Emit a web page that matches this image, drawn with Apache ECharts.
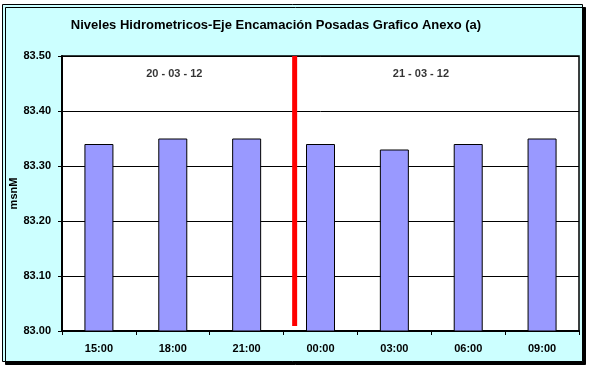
<!DOCTYPE html>
<html>
<head>
<meta charset="utf-8">
<script src="https://cdn.jsdelivr.net/npm/echarts@6/dist/echarts.min.js"></script>
<style>html,body{margin:0;padding:0;background:#fff;}#c{width:592px;height:370px;}</style>
</head>
<body>
<div id="c"></div>
<script>
var categories = ['15:00', '18:00', '21:00', '00:00', '03:00', '06:00', '09:00'];
var levels = [83.34, 83.35, 83.35, 83.34, 83.33, 83.34, 83.35];
var yTicks = [83.00, 83.10, 83.20, 83.30, 83.40, 83.50];
var dayDivider = [[3.15, 83.009], [3.15, 83.5]];
var dateLabels = [
  { name: '20 - 03 - 12', value: [1.52, 83.467] },
  { name: '21 - 03 - 12', value: [4.86, 83.467] }
];

var FONT = '"Liberation Sans", Arial, sans-serif';
var chart = echarts.init(document.getElementById('c'), null, { renderer: 'canvas' });
chart.setOption({
  animation: false,
  backgroundColor: '#ffffff',
  graphic: [{
    type: 'rect', z: -10, silent: true,
    shape: { x: 2.5, y: 4.5, width: 580, height: 357 },
    style: { fill: '#CCFFFF', stroke: '#000', lineWidth: 1, shadowColor: '#000', shadowOffsetX: 3, shadowOffsetY: 3, shadowBlur: 0 }
  }],
  title: {
    text: 'Niveles Hidrometricos-Eje Encamación Posadas Grafico Anexo (a)',
    left: 271, top: 14, textAlign: 'center',
    textStyle: { fontFamily: FONT, fontSize: 13, fontWeight: 'bold', color: '#000' }
  },
  grid: { left: 62, top: 56, right: 13, bottom: 39, show: true, backgroundColor: '#fff', borderColor: '#000', borderWidth: 1.5, containLabel: false, outerBoundsMode: 'none' },
  xAxis: [{
    type: 'category', data: categories, boundaryGap: true,
    axisLine: { lineStyle: { color: '#000', width: 2 } },
    axisTick: { show: true, length: 4, inside: false, lineStyle: { color: '#000' } },
    axisLabel: { margin: 12, fontFamily: FONT, fontSize: 11, fontWeight: 'bold', color: '#000' },
    splitLine: { show: false }
  }, {
    type: 'value', min: 0, max: 7, show: false, position: 'bottom'
  }],
  yAxis: {
    type: 'value', min: yTicks[0], max: yTicks[yTicks.length - 1], interval: 0.1,
    name: 'msnM', nameLocation: 'middle', nameRotate: 90, nameGap: 43, nameMoveOverlap: false,
    nameTextStyle: { fontFamily: FONT, fontSize: 11, fontWeight: 'bold', color: '#000' },
    axisLine: { show: true, lineStyle: { color: '#000', width: 2 } },
    axisTick: { show: true, length: 4, lineStyle: { color: '#000' } },
    axisLabel: { margin: 11, fontFamily: FONT, fontSize: 11, fontWeight: 'bold', color: '#000',
      formatter: function (v) { return v.toFixed(2); } },
    splitLine: { show: true, lineStyle: { color: '#000', width: 1 } }
  },
  series: [{
    type: 'bar', data: levels, barWidth: 29, xAxisIndex: 0,
    itemStyle: { color: '#9999FF', borderColor: '#000', borderWidth: 1 }
  }, {
    type: 'line', data: dayDivider, xAxisIndex: 1, showSymbol: false, symbol: 'none',
    lineStyle: { color: '#FF0000', width: 5, cap: 'butt' }, z: 5
  }, {
    type: 'scatter', data: dateLabels, xAxisIndex: 1, symbolSize: 0,
    label: { show: true, position: 'inside', formatter: function (p) { return p.name; },
      fontFamily: FONT, fontSize: 11, fontWeight: 'bold', color: '#000' }
  }]
});
</script>
</body>
</html>
